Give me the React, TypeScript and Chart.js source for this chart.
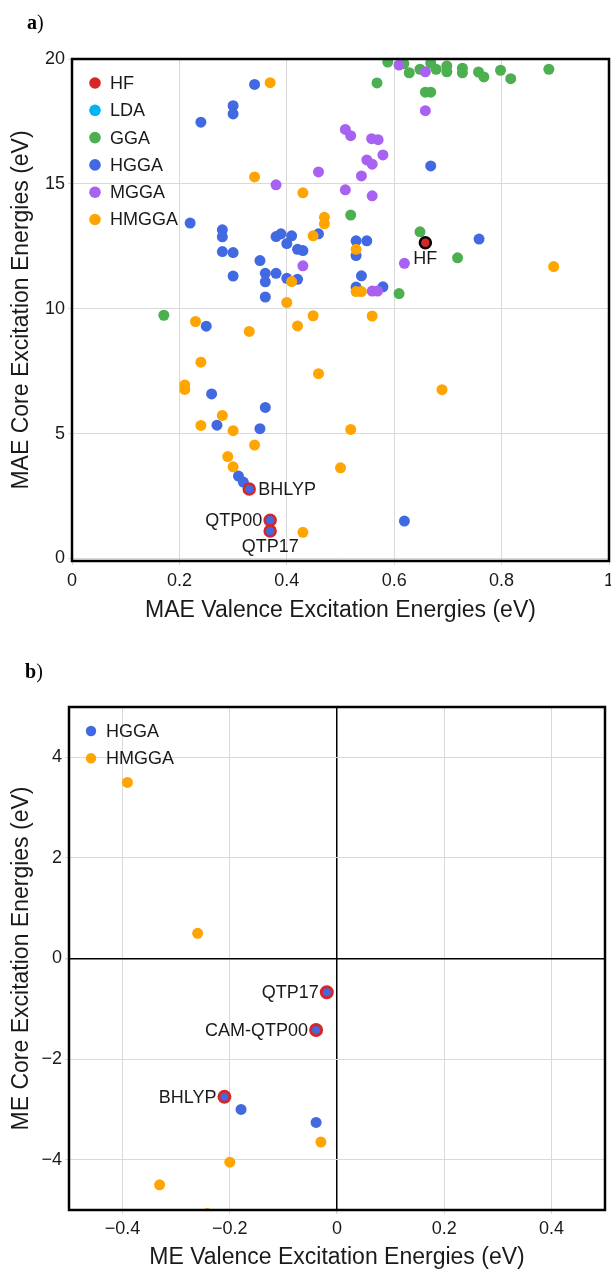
import React, { useEffect, useRef } from "react";
import { Chart, registerables } from "chart.js";

Chart.register(...registerables);

const FONT = '"Liberation Sans", Arial, Helvetica, sans-serif';
const SERIF = '"Liberation Serif", "Times New Roman", serif';
const GRID = "#d9d9d9";
const TEXT = "#1a1a1a";

const C_HF = "#d62728";
const C_LDA = "#00b4f0";
const C_GGA = "#4caf50";
const C_HGGA = "#4169e1";
const C_MGGA = "#a862f2";
const C_HMGGA = "#ffa500";
const C_RING = "#d62728";

// ---------- Panel a: MAE ----------
const A_X_TICKS = [0, 0.2, 0.4, 0.6, 0.8, 1];
const A_Y_TICKS = [0, 5, 10, 15, 20];

const A_HF: number[][] = [[0.658, 12.64]];
const A_LDA: number[][] = [];
const A_GGA: number[][] = [
  [0.171, 9.74], [0.519, 13.75], [0.568, 19.04], [0.588, 19.88], [0.609, 10.61],
  [0.618, 19.81], [0.628, 19.45], [0.648, 19.59], [0.648, 13.08], [0.658, 18.67],
  [0.668, 18.67], [0.668, 19.84], [0.678, 19.59], [0.698, 19.72], [0.698, 19.49],
  [0.718, 12.04], [0.727, 19.63], [0.727, 19.45], [0.757, 19.48], [0.767, 19.28],
  [0.798, 19.55], [0.817, 19.21], [0.888, 19.59],
];
const A_HGGA: number[][] = [
  [0.220, 13.43], [0.240, 17.47], [0.250, 9.30], [0.260, 6.59], [0.270, 5.34],
  [0.280, 13.16], [0.280, 12.88], [0.280, 12.29], [0.300, 12.25], [0.300, 11.31],
  [0.300, 18.13], [0.300, 17.80], [0.310, 3.30], [0.319, 3.06], [0.340, 18.98],
  [0.350, 11.93], [0.350, 5.20], [0.360, 11.42], [0.360, 11.08], [0.360, 10.47],
  [0.360, 6.05], [0.380, 12.89], [0.380, 11.42], [0.389, 13.00], [0.400, 12.61],
  [0.400, 11.22], [0.409, 12.92], [0.420, 12.38], [0.430, 12.33], [0.420, 11.18],
  [0.459, 13.00], [0.529, 12.72], [0.549, 12.72], [0.529, 12.13], [0.539, 11.32],
  [0.529, 10.87], [0.579, 10.88], [0.619, 1.50], [0.668, 15.72], [0.758, 12.79],
];
const A_MGGA: number[][] = [
  [0.380, 14.96], [0.430, 11.72], [0.459, 15.48], [0.509, 17.18], [0.519, 16.93],
  [0.509, 14.76], [0.539, 15.32], [0.549, 15.96], [0.558, 16.81], [0.570, 16.77],
  [0.559, 15.79], [0.579, 16.16], [0.559, 14.52], [0.559, 10.71], [0.569, 10.71],
  [0.609, 19.76], [0.619, 11.82], [0.658, 19.49], [0.658, 17.93],
];
const A_HMGGA: number[][] = [
  [0.210, 6.95], [0.210, 6.77], [0.230, 9.49], [0.240, 7.86], [0.240, 5.33],
  [0.280, 5.73], [0.290, 4.08], [0.300, 5.12], [0.300, 3.67], [0.330, 9.09],
  [0.340, 4.54], [0.340, 15.28], [0.369, 19.05], [0.400, 10.25], [0.409, 11.09],
  [0.420, 9.31], [0.430, 14.64], [0.430, 1.05], [0.449, 12.92], [0.449, 9.72],
  [0.459, 7.40], [0.470, 13.66], [0.470, 13.40], [0.500, 3.63], [0.519, 5.17],
  [0.529, 12.38], [0.529, 10.69], [0.539, 10.69], [0.559, 9.71], [0.689, 6.76],
  [0.897, 11.69],
];
const A_MARKED_NAMES = ["BHLYP", "QTP00", "QTP17"];
const A_MARKED: number[][] = [[0.330, 2.78], [0.369, 1.53], [0.369, 1.10]];

// ---------- Panel b: ME ----------
const B_X_TICKS = [-0.4, -0.2, 0, 0.2, 0.4];
const B_Y_TICKS = [-4, -2, 0, 2, 4];
const B_HGGA: number[][] = [[-0.179, -3.0], [-0.039, -3.26]];
const B_HMGGA: number[][] = [
  [-0.391, 3.5], [-0.26, 0.5], [-0.03, -3.65], [-0.2, -4.05], [-0.331, -4.5], [-0.242, -5.07],
];
const B_MARKED_NAMES = ["QTP17", "CAM-QTP00", "BHLYP"];
const B_MARKED: number[][] = [[-0.019, -0.67], [-0.039, -1.42], [-0.21, -2.75]];

const toPts = (arr: number[][]) => arr.map(([x, y]) => ({ x, y }));
const fmt = (v: number) => String(v).replace("-", "\u2212");

const framePlugin = {
  id: "frame",
  afterDatasetsDraw(chart: any) {
    const { ctx, chartArea: a } = chart;
    ctx.save();
    ctx.strokeStyle = "#000";
    ctx.lineWidth = 2.5;
    ctx.strokeRect(a.left, a.top, a.right - a.left, a.bottom - a.top);
    ctx.restore();
  },
};

const legendPlugin = {
  id: "innerLegend",
  afterDraw(chart: any, _args: any, opts: any) {
    const { ctx, chartArea: a } = chart;
    ctx.save();
    ctx.font = `18px ${FONT}`;
    ctx.textBaseline = "middle";
    ctx.textAlign = "left";
    (opts.items || []).forEach((it: any, i: number) => {
      const y = a.top + opts.dy + i * opts.step;
      ctx.beginPath();
      ctx.arc(a.left + opts.dx, y, opts.r, 0, Math.PI * 2);
      ctx.fillStyle = it.color;
      ctx.fill();
      ctx.fillStyle = TEXT;
      ctx.fillText(it.text, a.left + opts.dx + 15, y + 1);
    });
    ctx.restore();
  },
};

const pointLabelPlugin = {
  id: "pointLabels",
  afterDatasetsDraw(chart: any, _args: any, opts: any) {
    const ctx = chart.ctx;
    ctx.save();
    ctx.font = `18px ${FONT}`;
    ctx.fillStyle = TEXT;
    ctx.textBaseline = "middle";
    (opts.items || []).forEach((it: any) => {
      const el = chart.getDatasetMeta(it.dataset).data[it.index];
      if (!el) return;
      let x = el.x;
      let y = el.y + 1;
      if (it.pos === "right") { ctx.textAlign = "left"; x += 9; }
      else if (it.pos === "left") { ctx.textAlign = "right"; x -= 8; }
      else { ctx.textAlign = "center"; y += 15; }
      ctx.fillText(it.text, x, y);
    });
    ctx.restore();
  },
};

function axis(opts: any) {
  const { ticks, min, max, title, size, horizontal, zero } = opts;
  return {
    type: "linear",
    min,
    max,
    afterBuildTicks: (s: any) => { s.ticks = ticks.map((v: number) => ({ value: v })); },
    afterFit: (s: any) => {
      if (horizontal) { s.height = size; s.paddingLeft = 0; s.paddingRight = 0; }
      else { s.width = size; s.paddingTop = 0; s.paddingBottom = 0; }
    },
    grid: {
      color: (c: any) => (zero && c.tick && c.tick.value === 0 ? "#000" : GRID),
      lineWidth: (c: any) => (zero && c.tick && c.tick.value === 0 ? 1.5 : 1),
      tickColor: GRID,
      tickLength: 4,
    },
    border: { display: false },
    ticks: {
      font: { family: FONT, size: 18 },
      color: TEXT,
      padding: horizontal ? opts.kpad : 3,
      maxRotation: 0,
      autoSkip: false,
      callback: (v: number) => fmt(v),
    },
    title: {
      display: true,
      text: title,
      font: { family: FONT, size: 23, lineHeight: 1.15 },
      color: TEXT,
      padding: horizontal ? { top: 0, bottom: opts.tpad } : { top: opts.tpad, bottom: 0 },
    },
  };
}

function pointDs(label: string, data: number[][], color: string, order: number) {
  return {
    label,
    data: toPts(data),
    backgroundColor: color,
    borderColor: color,
    borderWidth: 0,
    pointRadius: 5.5,
    pointHoverRadius: 5.5,
    order,
  };
}

function configA(): any {
  const hf = { ...pointDs("HF", A_HF, C_HF, 0), borderColor: "#000", borderWidth: 2.5 };
  return {
    type: "scatter",
    data: {
      datasets: [
        hf,
        pointDs("LDA", A_LDA, C_LDA, 5),
        pointDs("GGA", A_GGA, C_GGA, 6),
        pointDs("HGGA", A_HGGA, C_HGGA, 4),
        pointDs("MGGA", A_MGGA, C_MGGA, 3),
        pointDs("HMGGA", A_HMGGA, C_HMGGA, 2),
        { ...pointDs("marked", A_MARKED, C_HGGA, 1), borderColor: C_RING, borderWidth: 2.5 },
      ],
    },
    options: {
      responsive: false,
      animation: false,
      devicePixelRatio: 1,
      layout: { autoPadding: false, padding: { top: 59, right: 2, left: 0, bottom: 0 } },
      scales: {
        x: axis({ ticks: A_X_TICKS, min: 0, max: 1, title: "MAE Valence Excitation Energies (eV)", size: 69, horizontal: true, tpad: 6, kpad: 5 }),
        y: axis({ ticks: A_Y_TICKS, min: -0.1, max: 20, title: "MAE Core Excitation Energies (eV)", size: 72, horizontal: false, tpad: 8 }),
      },
      plugins: {
        legend: { display: false },
        tooltip: { enabled: false },
        innerLegend: {
          dx: 23, dy: 24, step: 27.3, r: 5.8,
          items: [
            { text: "HF", color: C_HF },
            { text: "LDA", color: C_LDA },
            { text: "GGA", color: C_GGA },
            { text: "HGGA", color: C_HGGA },
            { text: "MGGA", color: C_MGGA },
            { text: "HMGGA", color: C_HMGGA },
          ],
        },
        pointLabels: {
          items: [
            { dataset: 6, index: 0, text: A_MARKED_NAMES[0], pos: "right" },
            { dataset: 6, index: 1, text: A_MARKED_NAMES[1], pos: "left" },
            { dataset: 6, index: 2, text: A_MARKED_NAMES[2], pos: "below" },
            { dataset: 0, index: 0, text: "HF", pos: "below" },
          ],
        },
      },
    },
    plugins: [framePlugin, legendPlugin, pointLabelPlugin],
  };
}

function configB(): any {
  return {
    type: "scatter",
    data: {
      datasets: [
        pointDs("HGGA", B_HGGA, C_HGGA, 3),
        pointDs("HMGGA", B_HMGGA, C_HMGGA, 2),
        { ...pointDs("marked", B_MARKED, C_HGGA, 1), borderColor: C_RING, borderWidth: 3 },
      ],
    },
    options: {
      responsive: false,
      animation: false,
      devicePixelRatio: 1,
      layout: { autoPadding: false, padding: { top: 72, right: 6, left: 0, bottom: 0 } },
      scales: {
        x: axis({ ticks: B_X_TICKS, min: -0.5, max: 0.5, title: "ME Valence Excitation Energies (eV)", size: 61, horizontal: true, tpad: 0, kpad: 4, zero: true }),
        y: axis({ ticks: B_Y_TICKS, min: -5, max: 5, title: "ME Core Excitation Energies (eV)", size: 69, horizontal: false, tpad: 8, zero: true }),
      },
      plugins: {
        legend: { display: false },
        tooltip: { enabled: false },
        innerLegend: {
          dx: 22, dy: 24, step: 27.3, r: 5.2,
          items: [
            { text: "HGGA", color: C_HGGA },
            { text: "HMGGA", color: C_HMGGA },
          ],
        },
        pointLabels: {
          items: [
            { dataset: 2, index: 0, text: B_MARKED_NAMES[0], pos: "left" },
            { dataset: 2, index: 1, text: B_MARKED_NAMES[1], pos: "left" },
            { dataset: 2, index: 2, text: B_MARKED_NAMES[2], pos: "left" },
          ],
        },
      },
    },
    plugins: [framePlugin, legendPlugin, pointLabelPlugin],
  };
}

function ChartCanvas({ make, width, height }: { make: () => any; width: number; height: number }) {
  const ref = useRef<HTMLCanvasElement>(null);
  useEffect(() => {
    const chart = new Chart(ref.current as HTMLCanvasElement, make());
    return () => chart.destroy();
  }, []);
  return <canvas ref={ref} width={width} height={height} style={{ display: "block", width, height }} />;
}

const panelTitle: React.CSSProperties = {
  position: "absolute",
  fontFamily: SERIF,
  fontSize: 20,
  lineHeight: "20px",
  color: "#000",
};

export default function App() {
  return (
    <div style={{ position: "absolute", left: 0, top: 0, width: 611, height: 1271, background: "#fff", overflow: "hidden" }}>
      <div style={{ position: "absolute", left: 0, top: 0 }}>
        <ChartCanvas make={configA} width={611} height={630} />
      </div>
      <div style={{ position: "absolute", left: 0, top: 635 }}>
        <ChartCanvas make={configB} width={611} height={636} />
      </div>
      <div style={{ ...panelTitle, left: 27, top: 12 }}><b>a</b>)</div>
      <div style={{ ...panelTitle, left: 25, top: 661 }}><b>b</b>)</div>
    </div>
  );
}
